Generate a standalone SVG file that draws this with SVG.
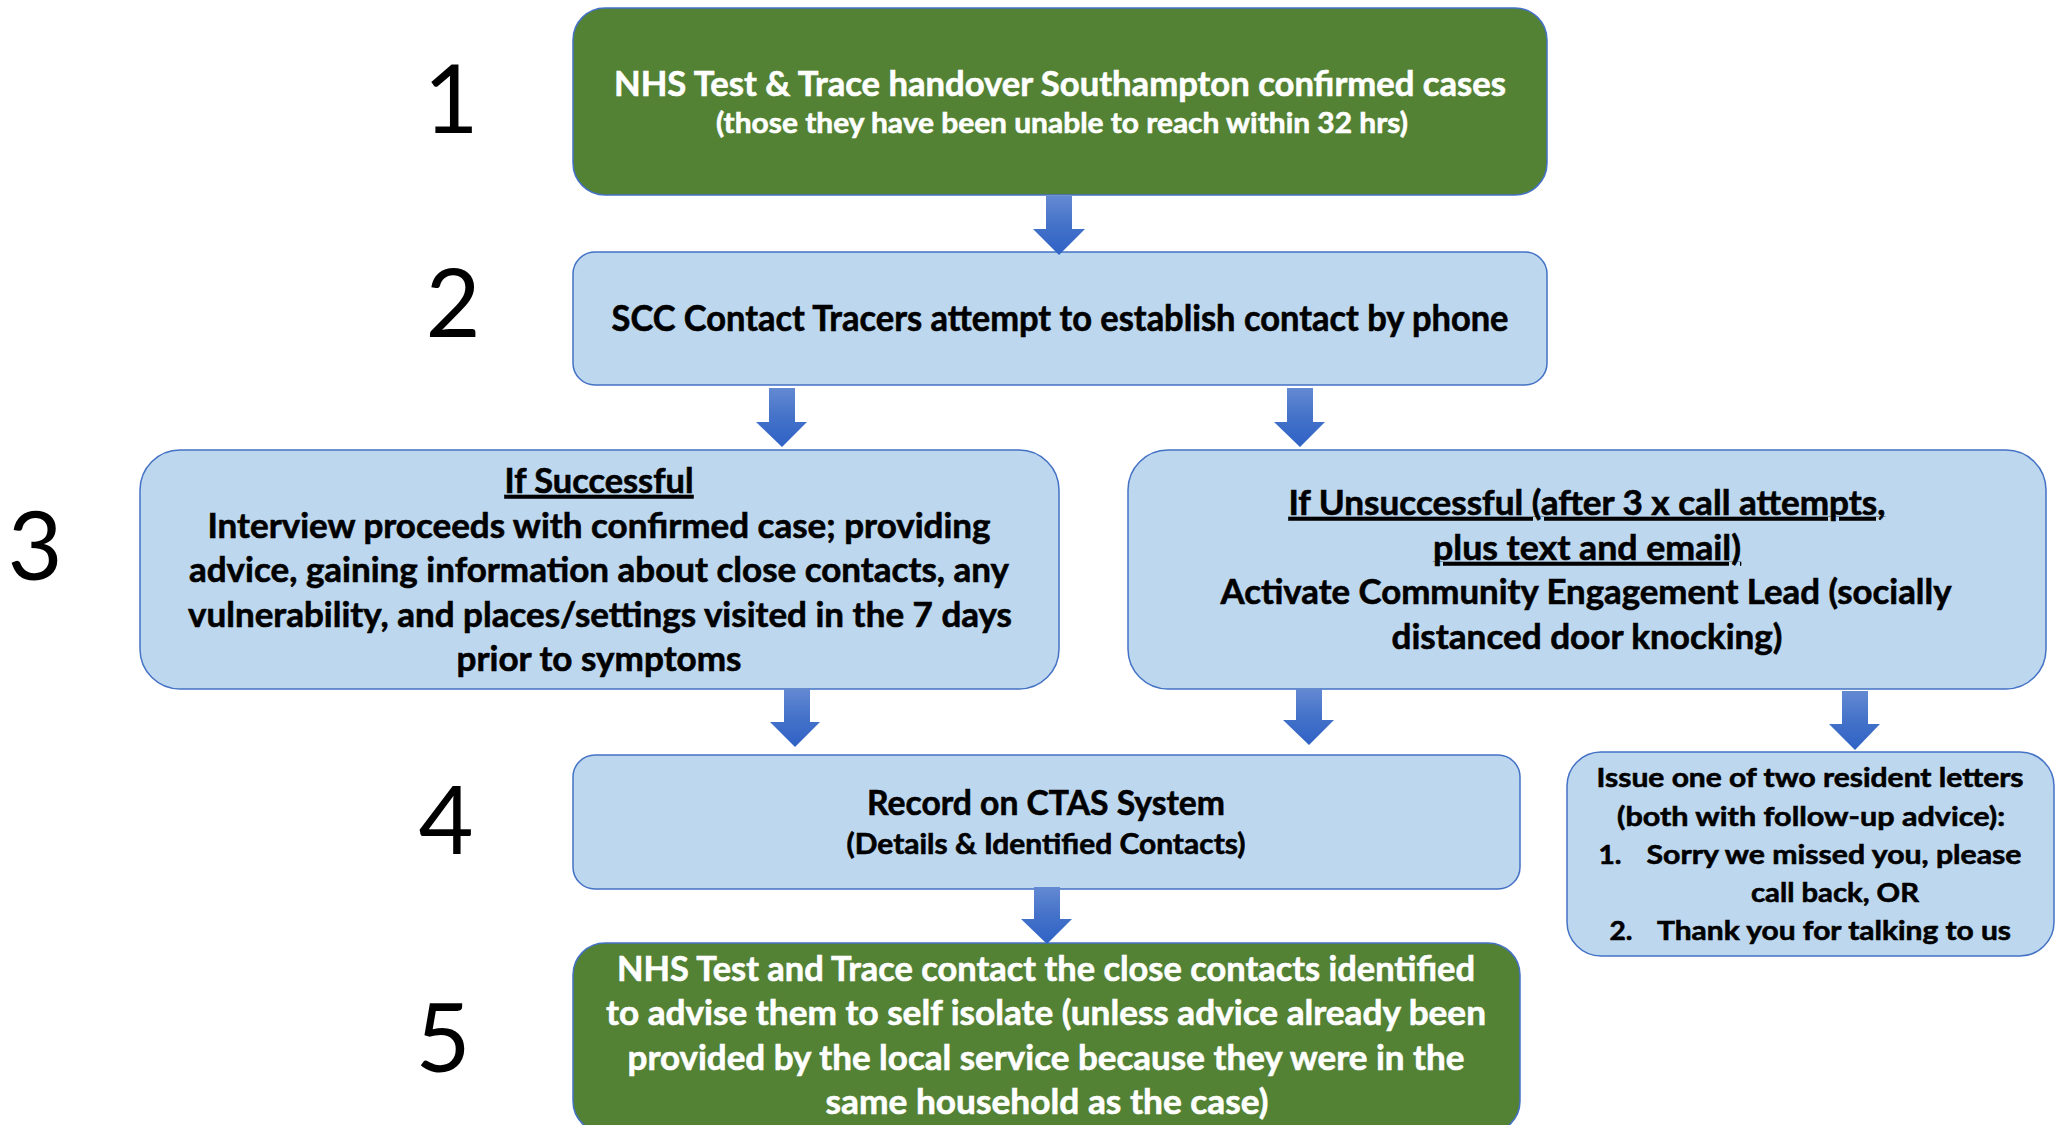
<svg xmlns="http://www.w3.org/2000/svg" width="2056" height="1125" viewBox="0 0 2056 1125">
<defs>
<linearGradient id="ag" x1="0" y1="0" x2="0" y2="1">
<stop offset="0" stop-color="#6389d2"/>
<stop offset="0.5" stop-color="#4472c9"/>
<stop offset="1" stop-color="#2f62c6"/>
</linearGradient>
<style>
.g{fill:#548235;stroke:#4472c4;stroke-width:1.5}
.b{fill:#bdd7ee;stroke:#4472c4;stroke-width:1.5}
.t{font-family:Lato,"Open Sans","Liberation Sans",sans-serif;font-weight:bold;text-anchor:middle;stroke-width:0.6}
.w{fill:#ffffff;stroke:#ffffff}
.k{fill:#000000;stroke:#000000}
.n{font-family:Lato,"Open Sans","Liberation Sans",sans-serif;font-size:95px;fill:#000;text-anchor:middle}
.u{text-decoration:underline}
.ar{fill:url(#ag)}
</style>
</defs>
<rect width="2056" height="1125" fill="#ffffff"/>
<g id="labels">
<text class="n" x="451" y="133">1</text>
<text class="n" x="453" y="337">2</text>
<text class="n" x="35" y="580">3</text>
<text class="n" x="446" y="854">4</text>
<text class="n" x="443" y="1072">5</text>
</g>
<g id="node1">
<rect class="g" x="573" y="8" width="974" height="187" rx="32" ry="32"/>
<text class="t w" x="1060" y="96" font-size="35" textLength="892" lengthAdjust="spacingAndGlyphs">NHS Test &amp; Trace handover Southampton confirmed cases</text>
<text class="t w" x="1062" y="133" font-size="29" textLength="692" lengthAdjust="spacingAndGlyphs">(those they have been unable to reach within 32 hrs)</text>
</g>
<g id="node2">
<rect class="b" x="573" y="252" width="974" height="133" rx="22" ry="22"/>
<text class="t k" x="1060" y="331" font-size="36" textLength="897" lengthAdjust="spacingAndGlyphs">SCC Contact Tracers attempt to establish contact by phone</text>
</g>
<g id="node3a">
<rect class="b" x="140" y="450" width="919" height="239" rx="40" ry="40"/>
<text class="t k u" x="599" y="493" font-size="34" textLength="189" lengthAdjust="spacingAndGlyphs">If Successful</text>
<text class="t k" x="599" y="538" font-size="34" textLength="783" lengthAdjust="spacingAndGlyphs">Interview proceeds with confirmed case; providing</text>
<text class="t k" x="599" y="582" font-size="34" textLength="820" lengthAdjust="spacingAndGlyphs">advice, gaining information about close contacts, any</text>
<text class="t k" x="600" y="627" font-size="34" textLength="824" lengthAdjust="spacingAndGlyphs">vulnerability, and places/settings visited in the 7 days</text>
<text class="t k" x="599" y="671" font-size="34" textLength="285" lengthAdjust="spacingAndGlyphs">prior to symptoms</text>
</g>
<g id="node3b">
<rect class="b" x="1128" y="450" width="918" height="239" rx="40" ry="40"/>
<text class="t k u" x="1587" y="515" font-size="34" textLength="597" lengthAdjust="spacingAndGlyphs">If Unsuccessful (after 3 x call attempts,</text>
<text class="t k u" x="1587" y="560" font-size="34" textLength="308" lengthAdjust="spacingAndGlyphs">plus text and email)</text>
<text class="t k" x="1586" y="604" font-size="34" textLength="731" lengthAdjust="spacingAndGlyphs">Activate Community Engagement Lead (socially</text>
<text class="t k" x="1587" y="649" font-size="34" textLength="391" lengthAdjust="spacingAndGlyphs">distanced door knocking)</text>
</g>
<g id="node4">
<rect class="b" x="573" y="755" width="947" height="134" rx="22" ry="22"/>
<text class="t k" x="1046" y="815" font-size="35" textLength="358" lengthAdjust="spacingAndGlyphs">Record on CTAS System</text>
<text class="t k" x="1046" y="854" font-size="28" textLength="399" lengthAdjust="spacingAndGlyphs">(Details &amp; Identified Contacts)</text>
</g>
<g id="node4b">
<rect class="b" x="1567" y="752" width="487" height="204" rx="34" ry="34"/>
<text class="t k" x="1810" y="787" font-size="27" textLength="427" lengthAdjust="spacingAndGlyphs">Issue one of two resident letters</text>
<text class="t k" x="1811" y="826" font-size="27" textLength="388" lengthAdjust="spacingAndGlyphs">(both with follow-up advice):</text>
<text class="t k" x="1610" y="864" font-size="27" textLength="23" lengthAdjust="spacingAndGlyphs">1.</text>
<text class="t k" x="1834" y="864" font-size="27" textLength="375" lengthAdjust="spacingAndGlyphs">Sorry we missed you, please</text>
<text class="t k" x="1835" y="902" font-size="27" textLength="168" lengthAdjust="spacingAndGlyphs">call back, OR</text>
<text class="t k" x="1621" y="940" font-size="27" textLength="23" lengthAdjust="spacingAndGlyphs">2.</text>
<text class="t k" x="1834" y="940" font-size="27" textLength="354" lengthAdjust="spacingAndGlyphs">Thank you for talking to us</text>
</g>
<g id="node5">
<rect class="g" x="573" y="943" width="947" height="190" rx="32" ry="32"/>
<text class="t w" x="1046" y="981" font-size="35" textLength="858" lengthAdjust="spacingAndGlyphs">NHS Test and Trace contact the close contacts identified</text>
<text class="t w" x="1046" y="1025" font-size="35" textLength="880" lengthAdjust="spacingAndGlyphs">to advise them to self isolate (unless advice already been</text>
<text class="t w" x="1046" y="1070" font-size="35" textLength="837" lengthAdjust="spacingAndGlyphs">provided by the local service because they were in the</text>
<text class="t w" x="1047" y="1114" font-size="35" textLength="443" lengthAdjust="spacingAndGlyphs">same household as the case)</text>
</g>
<g id="connectors">
<path class="ar" d="M1046 196 H1072 V229 H1085 L1059 255 L1033 229 H1046 Z"/>
<path class="ar" d="M769 388 H795 V422 H807 L782 447 L756 422 H769 Z"/>
<path class="ar" d="M1287 388 H1313 V422 H1325 L1300 447 L1274 422 H1287 Z"/>
<path class="ar" d="M784 689 H810 V722 H820 L795 747 L770 722 H784 Z"/>
<path class="ar" d="M1296 689 H1322 V720 H1334 L1309 745 L1283 720 H1296 Z"/>
<path class="ar" d="M1842 691 H1868 V724 H1880 L1855 750 L1829 724 H1842 Z"/>
<path class="ar" d="M1034 887 H1060 V919 H1072 L1047 944 L1021 919 H1034 Z"/>
</g>
</svg>
